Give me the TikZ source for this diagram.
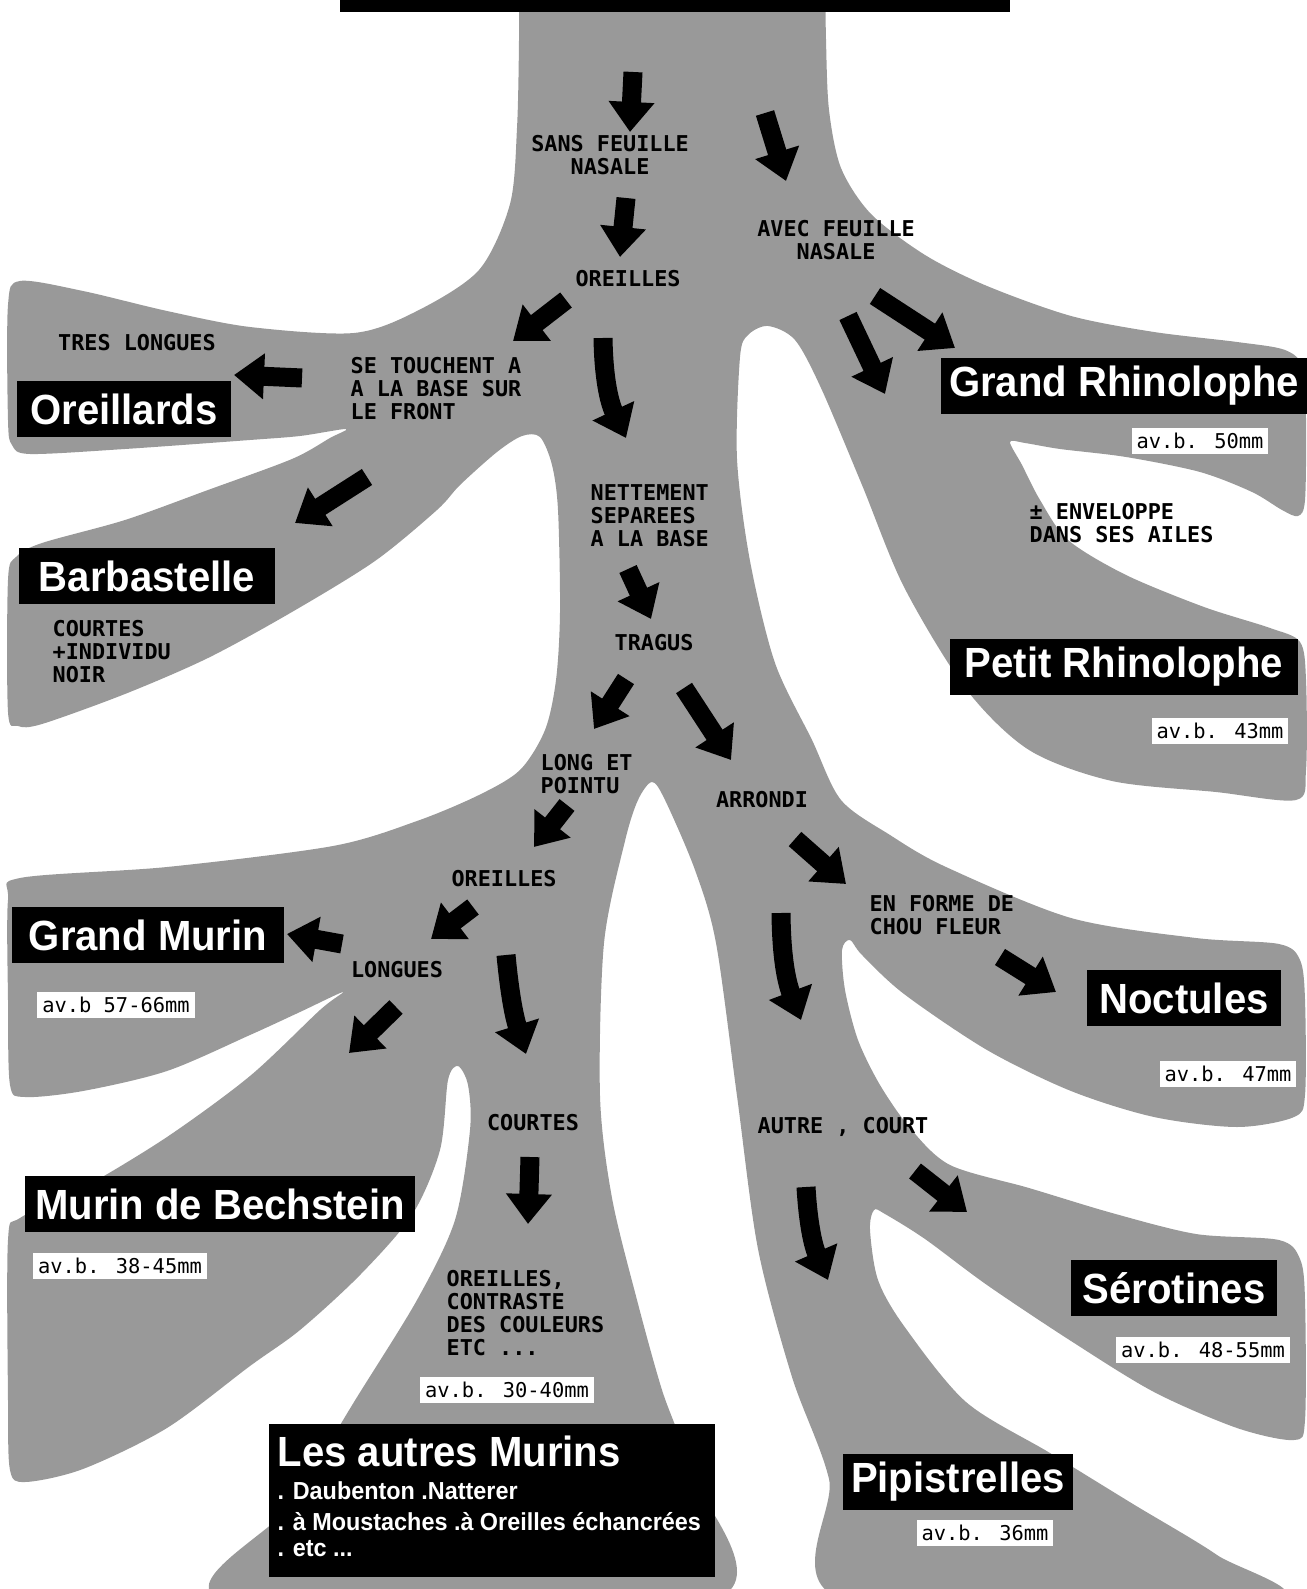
\documentclass[tikz,border=0pt]{standalone}
\usepackage{fontspec}
\setmainfont{Liberation Sans}
\newfontfamily\namefont[FakeStretch=0.95]{Liberation Sans}
\newfontfamily\cuefont{DejaVu Sans Mono}
\usepackage{tikz}
\usetikzlibrary{arrows.meta}

\begin{document}
\begin{tikzpicture}[x=0.01cm, y=-0.01cm,
    species/.style={fill=black, text=white, font=\namefont\bfseries\fontsize{12}{12}\selectfont, inner sep=0pt, minimum height=0.56cm},
    sublist/.style={text=white, font=\namefont\bfseries\fontsize{7}{7}\selectfont, inner sep=0pt, anchor=base west},
    wingspan/.style={fill=white, text=black, font=\cuefont\fontsize{5.8}{6}\selectfont, inner xsep=0.05cm, inner ysep=0.05cm},
    cue/.style={font=\cuefont\bfseries\fontsize{6.2}{6.5}\selectfont, inner sep=0pt},
    flow/.style={line width=0.19cm, -{Triangle[width=0.44cm,length=0.3cm]}}]
        \useasboundingbox (0,0) rectangle (1307,1589);
        \fill[black!40] plot [mark=none, smooth cycle, tension=0.5] coordinates {(519,-100) (825,-100) (825,-40) (826,40) (829,110) (841,168) (871,214) (925,255) (987,286) (1071,316) (1154,332) (1237,342) (1285,350) (1303,368) (1306,420) (1305,500) (1298,516) (1282,510) (1252,492) (1200,472) (1126,457) (1060,449) (1025,443) (1010,442) (1022,465) (1040,500) (1068,540) (1126,575) (1204,607) (1270,628) (1300,642) (1306,680) (1306,770) (1296,800) (1216,792) (1112,781) (1029,750) (966,689) (904,587) (862,485) (821,388) (795,340) (768,326) (748,335) (740,357) (737,459) (750,561) (775,663) (812,740) (841,800) (890,835) (946,867) (1071,918) (1196,938) (1279,944) (1300,960) (1305,1000) (1305,1095) (1294,1117) (1237,1127) (1154,1117) (1071,1091) (987,1050) (904,994) (862,955) (850,940) (842,950) (845,990) (858,1040) (880,1085) (910,1128) (950,1165) (1029,1188) (1112,1213) (1196,1234) (1279,1240) (1300,1259) (1305,1300) (1305,1420) (1294,1440) (1237,1428) (1154,1392) (1071,1341) (987,1285) (925,1239) (885,1214) (874,1210) (870,1230) (878,1280) (904,1326) (966,1402) (1050,1453) (1133,1504) (1217,1555) (1270,1600) (845,1600) (829,1479) (792,1377) (758,1249) (737,1096) (716,943) (695,870) (665,800) (652,782) (638,800) (625,841) (604,943) (600,1096) (612,1198) (637,1300) (662,1390) (690,1470) (712,1600) (226,1600) (292,1504) (354,1402) (417,1300) (455,1220) (470,1130) (468,1085) (458,1066) (448,1080) (440,1150) (412,1215) (360,1275) (300,1330) (250,1366) (167,1428) (83,1469) (25,1482) (10,1470) (8,1400) (8,1240) (20,1218) (83,1188) (167,1137) (250,1076) (320,1010) (343,992) (300,1012) (250,1035) (167,1071) (83,1091) (25,1097) (10,1085) (8,1000) (8,900) (20,878) (167,867) (333,846) (417,821) (479,795) (520,770) (545,730) (556,680) (560,612) (558,510) (552,465) (540,437) (522,436) (497,452) (460,485) (437,510) (375,561) (292,612) (208,658) (125,694) (42,724) (18,726) (8,712) (8,580) (16,557) (42,543) (125,520) (208,490) (292,459) (330,438) (346,429) (300,436) (250,440) (125,449) (30,454) (12,445) (8,420) (8,305) (20,281) (83,291) (167,311) (250,327) (354,333) (417,311) (479,270) (510,204) (517,128) (519,40) (519,-40)};
        \fill (340,0) rectangle (1010,12);
        \node[cue, align=center] (sans) at (610,155) {SANS FEUILLE\\NASALE};
        \node[cue, align=center] (avec) at (836,240) {AVEC FEUILLE\\NASALE};
        \node[cue] (oreilles) at (628,279) {OREILLES};
        \node[cue, align=left, anchor=north west] (touchent) at (350,357) {SE TOUCHENT A\\A LA BASE SUR\\LE FRONT};
        \node[cue] (treslongues) at (137,343) {TRES LONGUES};
        \node[cue, align=left, anchor=north west] (nettement) at (590,484) {NETTEMENT\\SEPAREES\\A LA BASE};
        \node[cue, align=left, anchor=north west] (enveloppe) at (1029,503) {± ENVELOPPE\\DANS SES AILES};
        \node[cue, align=left, anchor=north west] (noir) at (52,620) {COURTES\\+INDIVIDU\\NOIR};
        \node[cue] (tragus) at (654,643) {TRAGUS};
        \node[cue, align=left, anchor=north west] (pointu) at (540,754) {LONG ET\\POINTU};
        \node[cue] (arrondi) at (762,800) {ARRONDI};
        \node[cue] (oreillesb) at (504,879) {OREILLES};
        \node[cue] (longues) at (397,970) {LONGUES};
        \node[cue] (courtes) at (533,1123) {COURTES};
        \node[cue, align=left, anchor=north west] (contraste) at (446,1270) {OREILLES,\\CONTRASTE\\DES COULEURS\\ETC ...};
        \node[cue, align=left, anchor=north west] (choufleur) at (869,895) {EN FORME DE\\CHOU FLEUR};
        \node[cue] (autre) at (843,1127) {AUTRE , COURT};
        \node[species, minimum width=2.14cm] (oreillards) at (124,409) {Oreillards};
        \node[species, minimum width=2.56cm] (barbastelle) at (147,576) {Barbastelle};
        \node[species, minimum width=3.65cm] (grandrhino) at (1124,386) {Grand Rhinolophe};
        \node[species, minimum width=3.48cm] (petitrhino) at (1124,667) {Petit Rhinolophe};
        \node[species, minimum width=2.71cm] (grandmurin) at (148,935) {Grand Murin};
        \node[species, minimum width=3.90cm] (bechstein) at (220,1204) {Murin de Bechstein};
        \node[species, minimum width=1.94cm] (noctules) at (1184,998) {Noctules};
        \node[species, minimum width=2.06cm] (serotines) at (1174,1288) {Sérotines};
        \node[species, minimum width=2.29cm] (pipistrelles) at (958,1482) {Pipistrelles};
        \node[species, anchor=north west, minimum width=4.46cm, minimum height=1.53cm] (murins) at (268,1423) {};
        \node[species, fill=none, anchor=base west] (murinstitle) at (277,1466) {Les autres Murins};
        \node[sublist] (daubenton) at (277,1499) {. Daubenton .Natterer};
        \node[sublist] (moustaches) at (277,1530) {. à Moustaches .à Oreilles échancrées};
        \node[sublist] (etc) at (277,1556) {. etc ...};
        \node[wingspan] (grandrhinob) at (1200,441) {av.b. 50mm};
        \node[wingspan] (petitrhinob) at (1220,731) {av.b. 43mm};
        \node[wingspan] (grandmurinb) at (116,1005) {av.b 57-66mm};
        \node[wingspan] (bechsteinb) at (120,1266) {av.b. 38-45mm};
        \node[wingspan] (murinsb) at (507,1390) {av.b. 30-40mm};
        \node[wingspan] (noctulesb) at (1228,1074) {av.b. 47mm};
        \node[wingspan] (serotinesb) at (1203,1350) {av.b. 48-55mm};
        \node[wingspan] (pipistrellesb) at (985,1533) {av.b. 36mm};
        \coordinate (t1) at (633,72);   \coordinate (h1) at (630,132);
        \coordinate (t2) at (765,113);  \coordinate (h2) at (786,181);
        \coordinate (t3) at (626,198);  \coordinate (h3) at (620,257);
        \coordinate (t4) at (566,300);  \coordinate (h4) at (513,341);
        \coordinate (t5) at (603,338);  \coordinate (h5) at (626,438);
        \coordinate (t6) at (302,378);  \coordinate (h6) at (234,375);
        \coordinate (t7) at (367,477);  \coordinate (h7) at (295,523);
        \coordinate (t8) at (875,296);  \coordinate (h8) at (955,348);
        \coordinate (t9) at (848,316);  \coordinate (h9) at (885,394);
        \coordinate (t10) at (628,569); \coordinate (h10) at (651,619);
        \coordinate (t11) at (626,679); \coordinate (h11) at (594,729);
        \coordinate (t12) at (684,688); \coordinate (h12) at (731,760);
        \coordinate (t13) at (567,805); \coordinate (h13) at (534,847);
        \coordinate (t14) at (473,907); \coordinate (h14) at (431,939);
        \coordinate (t15) at (342,944); \coordinate (h15) at (287,934);
        \coordinate (t16) at (396,1007); \coordinate (h16) at (349,1053);
        \coordinate (t17) at (506,955); \coordinate (h17) at (526,1054);
        \coordinate (t18) at (530,1157); \coordinate (h18) at (528,1224);
        \coordinate (t19) at (795,839); \coordinate (h19) at (846,884);
        \coordinate (t20) at (781,913); \coordinate (h20) at (801,1020);
        \coordinate (t21) at (1000,957); \coordinate (h21) at (1056,992);
        \coordinate (t22) at (806,1187); \coordinate (h22) at (828,1280);
        \coordinate (t23) at (915,1171); \coordinate (h23) at (967,1212);
        \draw[flow] (t1) -- (h1);
        \draw[flow] (t2) -- (h2);
        \draw[flow] (t3) -- (h3);
        \draw[flow] (t4) -- (h4);
        \draw[flow] (t5) to[bend right=12] (h5);
        \draw[flow] (t6) -- (h6);
        \draw[flow] (t7) -- (h7);
        \draw[flow] (t8) -- (h8);
        \draw[flow] (t9) -- (h9);
        \draw[flow] (t10) -- (h10);
        \draw[flow] (t11) -- (h11);
        \draw[flow] (t12) -- (h12);
        \draw[flow] (t13) -- (h13);
        \draw[flow] (t14) -- (h14);
        \draw[flow] (t15) -- (h15);
        \draw[flow] (t16) -- (h16);
        \draw[flow] (t17) to[bend right=6] (h17);
        \draw[flow] (t18) -- (h18);
        \draw[flow] (t19) -- (h19);
        \draw[flow] (t20) to[bend right=10] (h20);
        \draw[flow] (t21) -- (h21);
        \draw[flow] (t22) to[bend right=10] (h22);
        \draw[flow] (t23) -- (h23);
      \end{tikzpicture}
\end{document}
